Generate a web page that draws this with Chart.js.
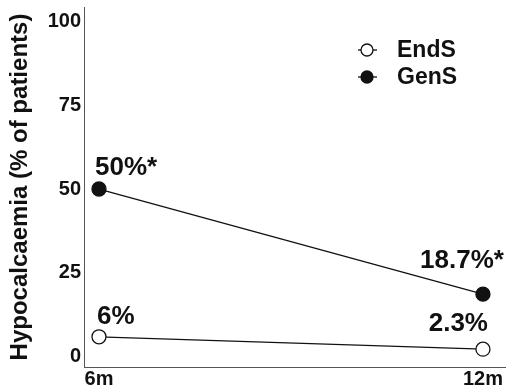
<!DOCTYPE html>
<html>
<head>
<meta charset="utf-8">
<script src="https://cdn.jsdelivr.net/npm/chart.js@4"></script>
<style>
  html, body { margin: 0; padding: 0; background: #fff; }
</style>
</head>
<body>
<canvas id="myChart" width="506" height="388"></canvas>
<script>
// data
var timepoints = ['6m', '12m'];
var endsValues = [6, 2.3];
var gensValues = [50, 18.7];
var endsLabels = ['6%', '2.3%'];
var gensLabels = ['50%*', '18.7%*'];
var yTicks = [0, 25, 50, 75, 100];

var FONT = "'Liberation Sans', Arial, sans-serif";

function toPoints(vals) {
  return vals.map(function (v, i) { return { x: i, y: v }; });
}

// value labels next to each point
var valueLabels = {
  id: 'valueLabels',
  afterDatasetsDraw: function (chart) {
    var ctx = chart.ctx;
    var offs = [
      [[-2, -13], [5, -18]],     // EndS
      [[-4, -14], [21, -26]]     // GenS
    ];
    ctx.save();
    ctx.font = 'bold 26px ' + FONT;
    ctx.fillStyle = '#111';
    ctx.textBaseline = 'alphabetic';
    chart.data.datasets.forEach(function (ds, di) {
      var meta = chart.getDatasetMeta(di);
      meta.data.forEach(function (pt, i) {
        var o = offs[di][i];
        ctx.textAlign = i === 0 ? 'left' : 'right';
        ctx.fillText(ds.valueText[i], pt.x + o[0], pt.y + o[1]);
      });
    });
    ctx.restore();
  }
};

// legend in the top right corner
var cornerLegend = {
  id: 'cornerLegend',
  afterDraw: function (chart) {
    var ctx = chart.ctx;
    var ys = [50, 77];
    ctx.save();
    chart.data.datasets.forEach(function (ds, di) {
      var y = ys[di];
      ctx.strokeStyle = '#111';
      ctx.lineWidth = 1.3;
      ctx.beginPath();
      ctx.moveTo(358, y);
      ctx.lineTo(377, y);
      ctx.stroke();
      ctx.beginPath();
      ctx.arc(367, y, 6, 0, Math.PI * 2);
      ctx.fillStyle = ds.pointBackgroundColor;
      ctx.fill();
      ctx.stroke();
      ctx.fillStyle = '#111';
      ctx.font = 'bold 23px ' + FONT;
      ctx.textAlign = 'left';
      ctx.textBaseline = 'middle';
      ctx.fillText(ds.label, 397, y + 1);
    });
    ctx.restore();
  }
};

var ctx = document.getElementById('myChart').getContext('2d');
var myChart = new Chart(ctx, {
  type: 'line',
  data: {
    datasets: [{
      label: 'EndS',
      data: toPoints(endsValues),
      valueText: endsLabels,
      borderColor: '#111',
      borderWidth: 1.3,
      pointRadius: 7,
      pointBorderWidth: 1.3,
      pointBackgroundColor: '#fff',
      pointBorderColor: '#111',
      tension: 0,
      clip: false
    }, {
      label: 'GenS',
      data: toPoints(gensValues),
      valueText: gensLabels,
      borderColor: '#111',
      borderWidth: 1.3,
      pointRadius: 7,
      pointBorderWidth: 1.3,
      pointBackgroundColor: '#111',
      pointBorderColor: '#111',
      tension: 0,
      clip: false
    }]
  },
  plugins: [valueLabels, cornerLegend],
  options: {
    responsive: false,
    animation: false,
    layout: { autoPadding: false, padding: { top: 7, right: 0, left: 0, bottom: 0 } },
    plugins: {
      legend: { display: false },
      tooltip: { enabled: false }
    },
    scales: {
      x: {
        type: 'linear',
        min: -0.039,
        max: 1.06,
        afterBuildTicks: function (s) {
          s.ticks = timepoints.map(function (t, i) { return { value: i }; });
        },
        afterFit: function (s) {
          s.height = 21;
          s.paddingLeft = 0;
          s.paddingRight = 0;
        },
        grid: { display: false, drawTicks: false },
        border: { display: true, color: '#555', width: 1 },
        ticks: {
          callback: function (v) { return timepoints[v]; },
          font: { family: FONT, weight: 'bold', size: 20 },
          color: '#111',
          padding: 0,
          maxRotation: 0
        }
      },
      y: {
        min: -3,
        max: 104.2,
        afterBuildTicks: function (s) {
          s.ticks = yTicks.map(function (v) { return { value: v }; });
        },
        afterFit: function (s) {
          s.width = 84;
          s.paddingTop = 0;
          s.paddingBottom = 0;
        },
        grid: { display: false, drawTicks: false },
        border: { display: true, color: '#555', width: 1 },
        ticks: {
          font: { family: FONT, weight: 'bold', size: 20 },
          color: '#111',
          padding: 3
        },
        title: {
          display: true,
          text: 'Hypocalcaemia (% of patients)',
          font: { family: FONT, weight: 'bold', size: 24 },
          color: '#111',
          padding: { top: 6, bottom: 0 }
        }
      }
    }
  }
});
</script>
</body>
</html>
